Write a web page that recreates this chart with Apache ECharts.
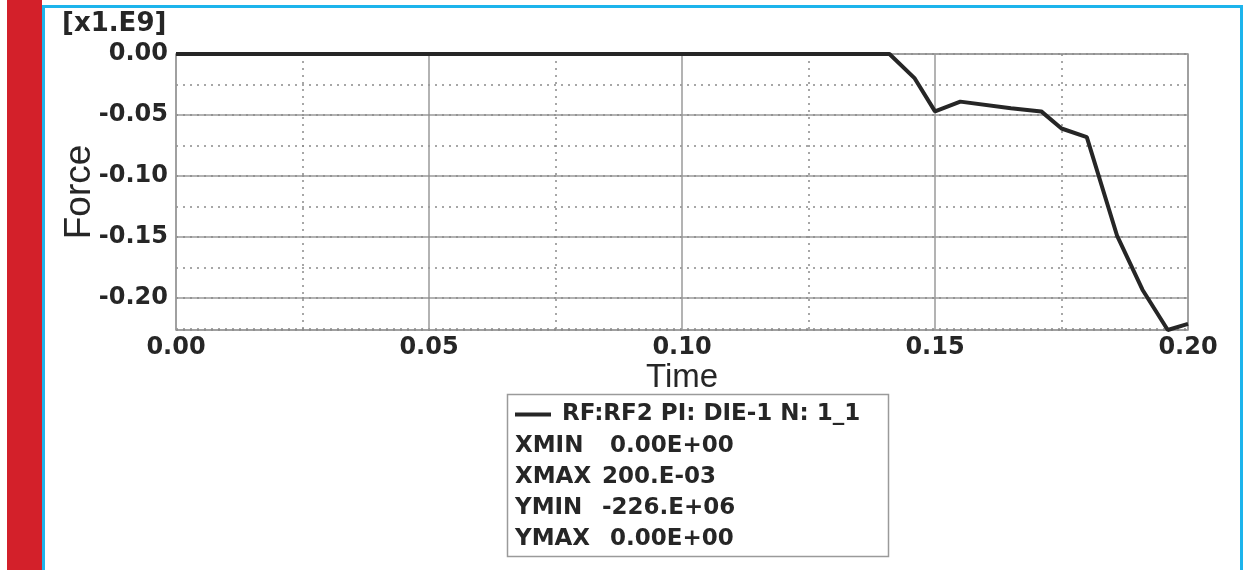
<!DOCTYPE html>
<html>
<head>
<meta charset="utf-8">
<title>RF2 reaction force vs time</title>
<script src="https://cdn.jsdelivr.net/npm/echarts@6/dist/echarts.min.js"></script>
<style>
  html, body { margin: 0; padding: 0; background: #ffffff; }
  #chart { width: 1246px; height: 570px; }
</style>
</head>
<body>
<div id="chart"></div>
<script>
// Reaction force RF2 on DIE-1, node 1_1 (force in units of 1e9)
const timeValues  = [0.000, 0.141, 0.146, 0.150, 0.155, 0.165, 0.171, 0.175, 0.180, 0.186, 0.191, 0.196, 0.200];
const forceValues = [0.000, 0.000, -0.020, -0.047, -0.039, -0.0445, -0.047, -0.061, -0.068, -0.149, -0.193, -0.226, -0.221];

const seriesName = 'RF:RF2 PI: DIE-1 N: 1_1';
const statNames  = ['XMIN', 'XMAX', 'YMIN', 'YMAX'];
const statValues = [' 0.00E+00', '200.E-03', '-226.E+06', ' 0.00E+00'];
const yScaleNote = '[x1.E9]';

const points = timeValues.map((t, i) => [t, forceValues[i]]);

const ink = '#262626';
const gridGray = '#9a9a9a';
const boldFont = '"DejaVu Sans", Verdana, sans-serif';
const nameFont = '"Liberation Sans", Arial, sans-serif';

const chart = echarts.init(document.getElementById('chart'), null, { renderer: 'canvas' });

const statTexts = statNames.flatMap((n, i) => [
  { type: 'text', left: 515, top: 435 + i * 31,
    style: { text: n, font: 'bold 23px ' + boldFont, fill: ink } },
  { type: 'text', left: 602, top: 435 + i * 31,
    style: { text: statValues[i], font: 'bold 23px ' + boldFont, fill: ink } }
]);

chart.setOption({
  backgroundColor: '#ffffff',
  animation: false,
  grid: {
    left: 176, right: 58, top: 54, bottom: 240,
    show: true, borderColor: gridGray, borderWidth: 1.5, backgroundColor: 'transparent'
  },
  legend: {
    left: 510, top: 398,
    icon: 'rect', itemWidth: 36, itemHeight: 4,
    data: [seriesName],
    textStyle: { fontFamily: boldFont, fontWeight: 'bold', fontSize: 23, color: ink, padding: [0, 0, 0, 6] }
  },
  xAxis: {
    type: 'value', min: 0, max: 0.2, interval: 0.05,
    name: 'Time', nameLocation: 'middle', nameGap: 31,
    nameTextStyle: { fontFamily: nameFont, fontSize: 33, color: ink },
    axisLine: { show: false },
    axisTick: { show: false },
    axisLabel: { margin: 6, fontFamily: boldFont, fontWeight: 'bold', fontSize: 24, color: ink,
                 formatter: v => v.toFixed(2) },
    splitLine: { show: true, lineStyle: { color: gridGray, width: 1.5 } },
    minorTick: { show: false, splitNumber: 2 },
    minorSplitLine: { show: true, lineStyle: { color: '#8a8a8a', width: 1.5, type: [2, 5] } }
  },
  yAxis: [
    {
      type: 'value', min: -0.226, max: 0, splitNumber: 5,
      name: 'Force', nameLocation: 'middle', nameGap: 78, nameRotate: 90, nameMoveOverlap: false,
      nameTextStyle: { fontFamily: nameFont, fontSize: 37, color: ink },
      axisLine: { show: false },
      axisTick: { show: false },
      axisLabel: { margin: 8, showMinLabel: false, fontFamily: boldFont, fontWeight: 'bold',
                   fontSize: 24, color: ink, formatter: v => v.toFixed(2) },
      splitLine: { show: true, lineStyle: { color: gridGray, width: 1.5 } }
    },
    {
      // magnitude scale carrying the dotted half-step gridlines
      type: 'value', min: 0, max: 0.226, interval: 0.025, inverse: true, position: 'left',
      axisLine: { show: false }, axisTick: { show: false }, axisLabel: { show: false },
      splitLine: { show: true, lineStyle: { color: '#8a8a8a', width: 1.5, type: [2, 5] } }
    }
  ],
  series: [{
    name: seriesName,
    type: 'line',
    yAxisIndex: 0,
    data: points,
    showSymbol: false,
    clip: false,
    lineStyle: { color: ink, width: 4 },
    itemStyle: { color: ink },
    z: 5
  }],
  graphic: [
    // page frame: red side band and light blue border
    { type: 'rect', shape: { x: 7, y: 0, width: 35, height: 570 }, style: { fill: '#d3202a' } },
    { type: 'line', shape: { x1: 43.5, y1: 5, x2: 43.5, y2: 570 }, style: { stroke: '#1db4ec', lineWidth: 3 } },
    { type: 'line', shape: { x1: 42, y1: 6.5, x2: 1243, y2: 6.5 }, style: { stroke: '#1db4ec', lineWidth: 3 } },
    { type: 'line', shape: { x1: 1241.5, y1: 5, x2: 1241.5, y2: 570 }, style: { stroke: '#1db4ec', lineWidth: 3 } },
    // exponent note above the force axis
    { type: 'text', left: 62, top: 11,
      style: { text: yScaleNote, font: 'bold 26px ' + boldFont, fill: ink } },
    // legend / statistics box
    { type: 'rect', shape: { x: 507.5, y: 394.5, width: 381, height: 162 },
      style: { fill: 'none', stroke: gridGray, lineWidth: 1.5 }, z: -1 },
    ...statTexts
  ]
});
</script>
</body>
</html>
